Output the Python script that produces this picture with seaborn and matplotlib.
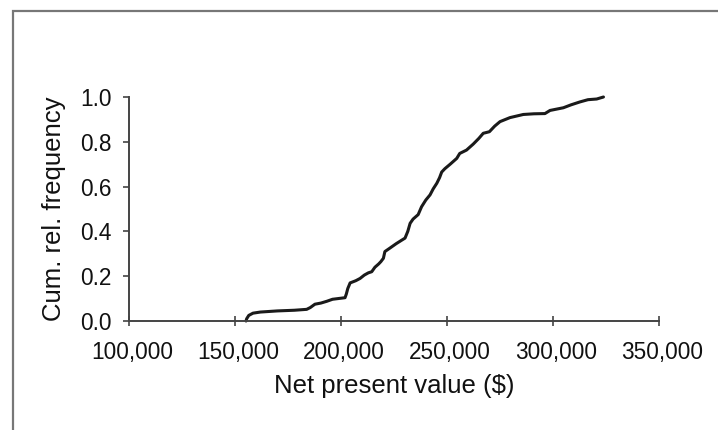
import matplotlib
matplotlib.use("Agg")
import matplotlib.pyplot as plt
import matplotlib.transforms as mtransforms
from matplotlib.patches import Rectangle
from matplotlib.ticker import FuncFormatter
import seaborn as sns
import pandas as pd

# Cumulative relative frequency of simulated net present value
npv = [155200, 155500, 156500, 158500, 162000, 170000, 178000, 183800, 185500,
       187700, 190500, 193300, 196000, 201900, 202500, 203200, 204300, 207000,
       209000, 211000, 212900, 214500, 216000, 217800, 218800, 220000, 220700,
       223000, 226000, 228500, 230200, 231500, 232600, 234000, 236400, 238000,
       240000, 242000, 243500, 245200, 246500, 247500, 249000, 251500, 254600,
       256000, 259200, 262400, 265000, 267100, 270000, 272500, 275000, 279700,
       286000, 291000, 296200, 298600, 304900, 308500, 312700, 316500, 320600,
       323800]
cum_freq = [0.0, 0.01, 0.025, 0.035, 0.04, 0.045, 0.048, 0.052, 0.06,
            0.075, 0.08, 0.088, 0.097, 0.104, 0.12, 0.145, 0.17, 0.18,
            0.19, 0.205, 0.215, 0.22, 0.24, 0.255, 0.265, 0.28, 0.31,
            0.325, 0.345, 0.36, 0.37, 0.40, 0.436, 0.455, 0.475, 0.51,
            0.54, 0.563, 0.59, 0.615, 0.64, 0.665, 0.68, 0.70, 0.726,
            0.748, 0.763, 0.79, 0.815, 0.838, 0.845, 0.87, 0.89, 0.908,
            0.922, 0.925, 0.926, 0.94, 0.952, 0.965, 0.978, 0.988, 0.991,
            1.0]

x_ticks = [100000, 150000, 200000, 250000, 300000, 350000]
y_ticks = [0.0, 0.2, 0.4, 0.6, 0.8, 1.0]

sns.set_style("ticks")
plt.rcParams["font.family"] = ["Liberation Sans", "DejaVu Sans"]

df = pd.DataFrame({"npv": npv, "freq": cum_freq})

fig = plt.figure(figsize=(7.18, 4.30), dpi=100)
ax = fig.add_axes([129 / 718, 1 - 321 / 430, 530 / 718, 224 / 430])

sns.lineplot(data=df, x="npv", y="freq", sort=False, color="#1a1a1a",
             linewidth=2.2, ax=ax)

ax.set_xlim(100000, 350000)
ax.set_ylim(0, 1.0)
ax.set_xticks(x_ticks)
ax.set_yticks(y_ticks)
ax.xaxis.set_major_formatter(FuncFormatter(lambda v, p: f"{int(v):,}"))
ax.yaxis.set_major_formatter(FuncFormatter(lambda v, p: f"{v:.1f}"))
ax.set_xlabel("Net present value ($)", fontsize=18.5, labelpad=7, color="#111111")
ax.set_ylabel("Cum. rel. frequency", fontsize=18.5, labelpad=10, color="#111111")

for side in ("top", "right"):
    ax.spines[side].set_visible(False)
for side in ("left", "bottom"):
    ax.spines[side].set_color("#444444")
    ax.spines[side].set_linewidth(1.4)
ax.tick_params(axis="x", direction="inout", length=7, width=1.2, color="#444444",
               labelsize=16.3, pad=11, labelcolor="#111111")
ax.tick_params(axis="y", direction="out", length=4, width=1.2, color="#444444",
               labelsize=16.3, pad=8.5, labelcolor="#111111")

# Nudge the x tick labels slightly to the right
shift = mtransforms.ScaledTranslation(3 / 100, 0, fig.dpi_scale_trans)
for label in ax.get_xticklabels():
    label.set_transform(label.get_transform() + shift)

for line in ax.lines:
    line.set_clip_on(False)

# Outer frame around the chart area
fig.add_artist(Rectangle((12.5 / 718, -0.2), 1.2, 1.2 - 11 / 430,
                         transform=fig.transFigure, fill=False,
                         edgecolor="#777777", linewidth=1.6))

fig.savefig("out.png", dpi=100)
